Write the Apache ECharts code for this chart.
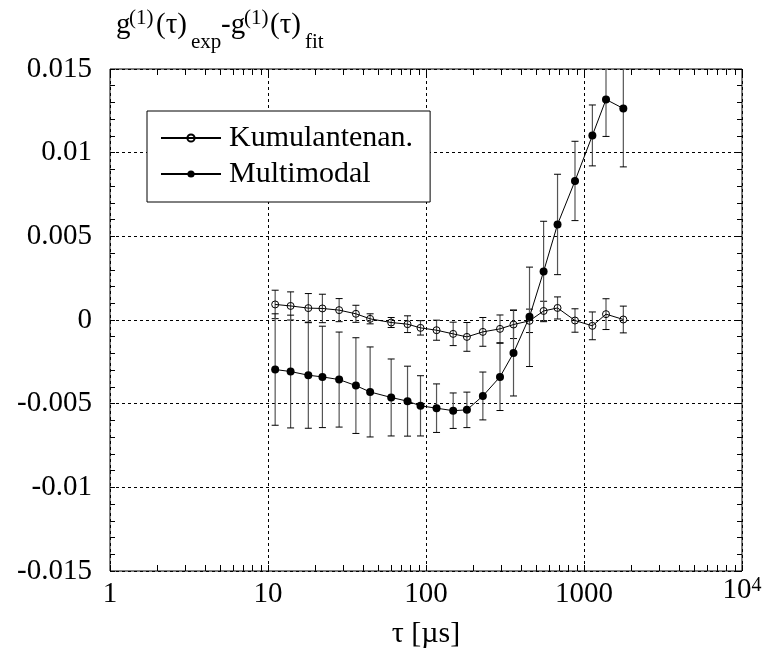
<!DOCTYPE html>
<html>
<head>
<meta charset="utf-8">
<script src="https://cdn.jsdelivr.net/npm/echarts@6/dist/echarts.min.js"></script>
<style>
html,body{margin:0;padding:0;background:#fff;}
#chart{width:766px;height:662px;}
</style>
</head>
<body>
<div id="chart"></div>
<script>
// ---- data ----
var tau = [11.1, 13.9, 18.0, 22.1, 28.2, 36.0, 44.3, 60.2, 76.4, 92.3, 116.6, 148.6,
           181.5, 229, 294, 358, 452, 555, 680, 877, 1130, 1378, 1774];
var kumulant = [0.00093, 0.00084, 0.00071, 0.00069, 0.00059, 0.00037, 0.00007, -0.00015,
                -0.00025, -0.00047, -0.00061, -0.00083, -0.00101, -0.00071, -0.00053, -0.00027,
                -0.00005, 0.00054, 0.00072, -0.00003, -0.00035, 0.00035, 0.00003];
var kumulantErr = [0.00085, 0.00084, 0.00087, 0.00085, 0.00069, 0.00051, 0.0003, 0.0003,
                   0.0005, 0.00043, 0.0006, 0.0007, 0.00086, 0.00086, 0.00083, 0.00084,
                   0.0007, 0.00058, 0.00066, 0.0007, 0.00083, 0.00092, 0.0008];
var multimodal = [-0.00296, -0.00308, -0.00330, -0.00340, -0.00356, -0.00392, -0.00430, -0.00463,
                  -0.00485, -0.00513, -0.00527, -0.00542, -0.00537, -0.00454, -0.00340, -0.00197,
                  0.00019, 0.00290, 0.00571, 0.00831, 0.01103, 0.01318, 0.01264];
var multimodalErr = [0.00333, 0.00337, 0.00317, 0.00303, 0.00284, 0.00286, 0.00269, 0.0023,
                     0.00209, 0.0018, 0.00145, 0.00106, 0.00106, 0.00143, 0.00201, 0.00257,
                     0.00297, 0.003, 0.003, 0.00237, 0.00182, 0.00221, 0.00349];
var seriesNames = ['Kumulantenan.', 'Multimodal'];
var xTickLabels = ['1', '10', '100', '1000', '10^4'];
var xMinorTicks = [1,2,3,4,5,6,7,8,9,10,20,30,40,50,60,70,80,90,100,200,300,400,500,600,700,800,900,
                   1000,2000,3000,4000,5000,6000,7000,8000,9000,10000];
var yTickLabels = ['-0.015', '-0.01', '-0.005', '0', '0.005', '0.01', '0.015'];
var yMin = -0.015, yMax = 0.015, yStep = 0.005;
var xAxisName = 'τ [µs]';

// ---- build ----
var FONT = 'Liberation Serif';
function pairs(ys) { return tau.map(function (t, i) { return [t, ys[i]]; }); }
function triples(ys, es) { return tau.map(function (t, i) { return [t, ys[i], es[i]]; }); }

function errRender(params, api) {
  var x = api.value(0), y = api.value(1), e = api.value(2);
  var top = api.coord([x, y + e]);
  var bot = api.coord([x, y - e]);
  var cw = 3.5;
  var st = { stroke: '#000', lineWidth: 1 };
  return {
    type: 'group',
    children: [
      { type: 'line', shape: { x1: top[0], y1: top[1], x2: bot[0], y2: bot[1] }, style: { stroke: '#555', lineWidth: 1.2 } },
      { type: 'line', shape: { x1: top[0] - cw, y1: top[1], x2: top[0] + cw, y2: top[1] }, style: st },
      { type: 'line', shape: { x1: bot[0] - cw, y1: bot[1], x2: bot[0] + cw, y2: bot[1] }, style: st }
    ]
  };
}

function xLabel(v) {
  var i = Math.round(Math.log10(v));
  var s = xTickLabels[i];
  if (s === undefined) return '';
  var p = s.split('^');
  if (p.length === 2) return '{b|' + p[0] + '}{s|' + p[1] + '}';
  return '{n|' + s + '}';
}
function yLabel(v) {
  var i = Math.round((v - yMin) / yStep);
  return yTickLabels[i] !== undefined ? yTickLabels[i] : '';
}

var dash = { color: '#000', width: 1, type: [3, 3] };
var tickStyle = { color: '#000', width: 1 };

var chart = echarts.init(document.getElementById('chart'), null, { renderer: 'canvas' });
chart.setOption({
  animation: false,
  backgroundColor: '#fff',
  textStyle: { fontFamily: FONT, color: '#000' },
  grid: { left: 110, right: 24, top: 69, bottom: 91, show: true, borderColor: '#000', borderWidth: 1, backgroundColor: 'transparent' },
  legend: {
    data: seriesNames,
    orient: 'vertical',
    left: 147, top: 111,
    padding: [12, 17, 13, 13],
    itemGap: 6,
    itemWidth: 60, itemHeight: 9,
    backgroundColor: '#fff',
    borderColor: '#000', borderWidth: 1, borderRadius: 0,
    textStyle: { fontFamily: FONT, fontSize: 30, color: '#000', lineHeight: 30, padding: [0, 0, 0, 3] }
  },
  graphic: [
    { type: 'text', x: 116, y: 25, style: { text: 'g', font: '29px "Liberation Serif"', fill: '#000', verticalAlign: 'middle' } },
    { type: 'text', x: 129, y: 18, style: { text: '(1)', font: '21px "Liberation Serif"', fill: '#000', verticalAlign: 'middle' } },
    { type: 'text', x: 156, y: 25, style: { text: '(τ)', font: '29px "Liberation Serif"', fill: '#000', verticalAlign: 'middle' } },
    { type: 'text', x: 191, y: 42, style: { text: 'exp', font: '21px "Liberation Serif"', fill: '#000', verticalAlign: 'middle' } },
    { type: 'text', x: 221, y: 25, style: { text: '-g', font: '29px "Liberation Serif"', fill: '#000', verticalAlign: 'middle' } },
    { type: 'text', x: 244, y: 18, style: { text: '(1)', font: '21px "Liberation Serif"', fill: '#000', verticalAlign: 'middle' } },
    { type: 'text', x: 270, y: 25, style: { text: '(τ)', font: '29px "Liberation Serif"', fill: '#000', verticalAlign: 'middle' } },
    { type: 'text', x: 305, y: 42, style: { text: 'fit', font: '21px "Liberation Serif"', fill: '#000', verticalAlign: 'middle' } }
  ],
  xAxis: [
    {
      type: 'log', logBase: 10, min: 1, max: 10000, position: 'bottom',
      name: xAxisName, nameLocation: 'middle', nameGap: 48,
      nameTextStyle: { fontFamily: FONT, fontSize: 30, color: '#000' },
      axisLine: { show: false, onZero: false },
      axisTick: { show: false },
      splitLine: { show: true, lineStyle: dash },
      minorTick: { show: false }, minorSplitLine: { show: false },
      axisLabel: {
        show: true, margin: 5, formatter: xLabel, color: '#000', fontFamily: FONT, fontSize: 29,
        rich: {
          n: { fontFamily: FONT, fontSize: 29, lineHeight: 29, padding: [8, 0, 0, 0], color: '#000' },
          b: { fontFamily: FONT, fontSize: 29, lineHeight: 29, verticalAlign: 'bottom', color: '#000' },
          s: { fontFamily: FONT, fontSize: 20, lineHeight: 20, verticalAlign: 'top', padding: [0, 0, 17, 0], color: '#000' }
        }
      }
    },
    {
      type: 'log', logBase: 10, min: 1, max: 10000, position: 'bottom',
      axisLine: { show: false, onZero: false },
      axisTick: { show: true, inside: true, length: 6, lineStyle: tickStyle, customValues: xMinorTicks },
      axisLabel: { show: false },
      splitLine: { show: false }
    },
    {
      type: 'log', logBase: 10, min: 1, max: 10000, position: 'top',
      axisLine: { show: false, onZero: false },
      axisTick: { show: true, inside: true, length: 6, lineStyle: tickStyle, customValues: xMinorTicks },
      axisLabel: { show: false },
      splitLine: { show: false }
    }
  ],
  yAxis: [
    {
      type: 'value', min: yMin, max: yMax, interval: yStep, position: 'left',
      axisLine: { show: false, onZero: false },
      axisTick: { show: true, inside: true, length: 5, lineStyle: tickStyle },
      minorTick: { show: true, splitNumber: 5, length: 5, lineStyle: tickStyle },
      splitLine: { show: true, lineStyle: dash },
      axisLabel: { margin: 18, formatter: yLabel, color: '#000', fontFamily: FONT, fontSize: 29 }
    },
    {
      type: 'value', min: yMin, max: yMax, interval: yStep, position: 'right',
      axisLine: { show: false, onZero: false },
      axisTick: { show: true, inside: true, length: 5, lineStyle: tickStyle },
      minorTick: { show: true, splitNumber: 5, length: 5, lineStyle: tickStyle },
      splitLine: { show: false },
      axisLabel: { show: false }
    }
  ],
  series: [
    {
      type: 'custom', name: 'errK', renderItem: errRender, data: triples(kumulant, kumulantErr),
      encode: { x: 0, y: 1 }, clip: true, z: 2, silent: true
    },
    {
      type: 'custom', name: 'errM', renderItem: errRender, data: triples(multimodal, multimodalErr),
      encode: { x: 0, y: 1 }, clip: true, z: 2, silent: true
    },
    {
      type: 'line', name: seriesNames[0], data: pairs(kumulant),
      symbol: 'circle', symbolSize: 7,
      itemStyle: { color: 'rgba(255,255,255,0)', borderColor: '#000', borderWidth: 1 },
      lineStyle: { color: '#000', width: 1 },
      z: 3, clip: true
    },
    {
      type: 'line', name: seriesNames[1], data: pairs(multimodal),
      symbol: 'circle', symbolSize: 8,
      itemStyle: { color: '#000', borderColor: '#000', borderWidth: 0 },
      lineStyle: { color: '#000', width: 1 },
      z: 4, clip: true
    }
  ]
});
</script>
</body>
</html>
